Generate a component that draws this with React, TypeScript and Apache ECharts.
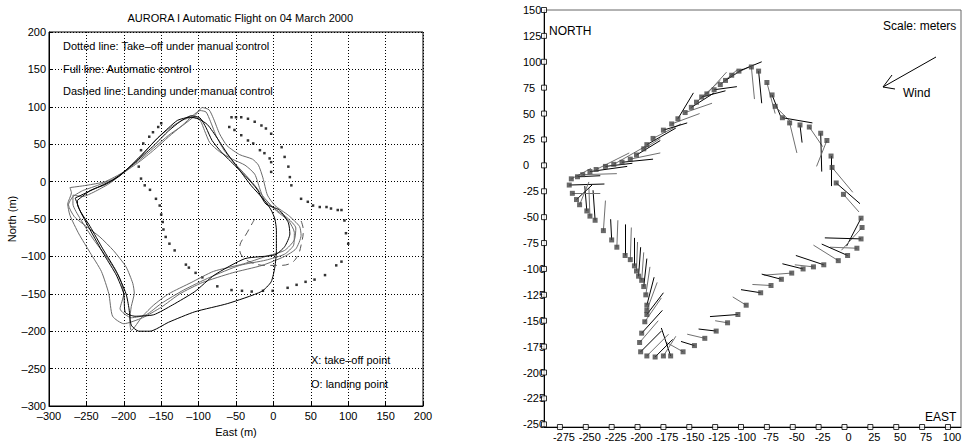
import React, { useEffect, useRef } from "react";
import * as echarts from "echarts";

// ---------- Left panel data ----------
const leftTicks = [-300, -250, -200, -150, -100, -50, 0, 50, 100, 150, 200];

const loopBlack1: [number, number][] = [
  [-262, -25], [-245, -12], [-225, -4], [-205, 8], [-190, 22], [-172, 40], [-155, 58], [-140, 72],
  [-128, 82], [-112, 86], [-100, 84], [-88, 76], [-75, 58], [-62, 38], [-45, 15], [-30, -5],
  [-12, -25], [-3, -38], [2, -50], [4, -65], [4, -92], [2, -114], [-3, -134], [-16, -147],
  [-61, -163], [-105, -174], [-140, -188], [-165, -200], [-180, -200], [-190, -192], [-193, -170],
  [-197, -150], [-210, -120], [-228, -90], [-245, -60], [-262, -30], [-262, -25],
];
const loopBlack2: [number, number][] = [
  [-265, -22], [-240, -10], [-215, 2], [-200, 13], [-180, 30], [-160, 48], [-140, 68], [-125, 80],
  [-110, 88], [-98, 85], [-90, 72], [-82, 55], [-70, 40], [-50, 20], [-35, 5], [-22, -10],
  [-10, -30], [8, -38], [20, -55], [22, -70], [15, -87], [2, -98], [-38, -103], [-79, -125],
  [-105, -147], [-135, -165], [-160, -178], [-185, -180], [-198, -175], [-200, -150], [-210, -125],
  [-225, -100], [-242, -70], [-258, -40], [-265, -22],
];
const loopGray1: [number, number][] = [
  [-272, -8], [-250, -5], [-225, 0], [-200, 13], [-180, 28], [-160, 45], [-140, 62], [-120, 76],
  [-105, 88], [-95, 99], [-86, 96], [-80, 84], [-72, 64], [-62, 48], [-45, 36], [-28, 30],
  [-20, 22], [-14, 5], [-8, -18], [2, -32], [20, -45], [35, -60], [37, -72], [30, -90], [15, -100],
  [-15, -112], [-55, -122], [-95, -135], [-125, -150], [-150, -168], [-175, -182], [-200, -190],
  [-215, -180], [-220, -150], [-230, -120], [-245, -95], [-260, -70], [-272, -45], [-275, -30],
  [-270, -15], [-272, -8],
];
const loopGray2: [number, number][] = [
  [-268, -18], [-255, -20], [-240, -14], [-220, -3], [-200, 12], [-180, 26], [-160, 42], [-140, 60],
  [-122, 75], [-108, 88], [-98, 95], [-90, 93], [-84, 80], [-76, 60], [-66, 42], [-55, 28],
  [-40, 12], [-25, -5], [-12, -22], [5, -40], [20, -52], [28, -68], [27, -85], [15, -97],
  [-10, -105], [-45, -112], [-85, -128], [-120, -145], [-150, -163], [-170, -178], [-190, -182],
  [-205, -170], [-200, -150], [-205, -130], [-220, -105], [-240, -78], [-258, -50], [-268, -30],
  [-268, -18],
];
const loopGray3: [number, number][] = [
  [-255, -12], [-235, -5], [-215, 3], [-200, 12], [-185, 25], [-170, 42], [-155, 58], [-138, 72],
  [-122, 82], [-108, 86], [-98, 82], [-92, 68], [-85, 52], [-72, 40], [-55, 30], [-38, 22],
  [-25, 10], [-18, -10], [-12, -25], [0, -35], [18, -48], [30, -62], [28, -78], [15, -92],
  [-10, -100], [-40, -110], [-80, -120], [-110, -135], [-140, -150], [-160, -165], [-175, -180],
  [-190, -199], [-192, -185], [-190, -167], [-186, -149], [-188, -136], [-197, -114], [-214, -92],
  [-232, -74], [-250, -60], [-266, -47], [-274, -31], [-268, -20], [-255, -12],
];
const landingPath: [number, number][] = [
  [-25, -50], [-35, -68], [-45, -88], [-43, -98], [-30, -108], [-10, -112], [10, -112],
  [25, -108], [33, -98], [37, -85], [40, -65], [36, -50],
];
const takeoffDots: [number, number][] = [
  [-56, 86], [-50, 86], [-43, 86], [-34, 84], [-25, 80], [-16, 75], [-10, 71], [-3, 64],
  [-59, 73], [-52, 69], [-43, 62], [-34, 55], [-27, 51], [-18, 42], [-12, 38], [-5, 31], [-3, 26],
  [-3, 13], [11, 46], [15, 33], [20, 20], [22, 6], [24, -5], [37, -23], [46, -27], [53, -32],
  [62, -34], [71, -34], [77, -36], [86, -38], [91, -38], [95, -52], [97, -69], [100, -83],
  [91, -107], [84, -112], [69, -125], [55, -131], [43, -134], [31, -138], [19, -142], [-1, -146],
  [-14, -146], [-29, -147], [-42, -146], [-56, -145], [-75, -140], [-95, -128], [-104, -122],
  [-113, -115], [-117, -111], [-132, -92], [-139, -83], [-144, -74], [-147, -64], [-148, -54],
  [-150, -44], [-152, -32], [-157, -23], [-165, -11], [-172, -5], [-177, 4], [-180, 20],
  [-177, 42], [-174, 51], [-166, 60], [-161, 66], [-154, 73], [-150, 78],
];
const landingPoint: [number, number][] = [[-5, 0]];

// ---------- Right panel data ----------
const rightXTicks = [-275, -250, -225, -200, -175, -150, -125, -100, -75, -50, -25, 0, 25, 50, 75, 100];
const rightYTicks = [-250, -225, -200, -175, -150, -125, -100, -75, -50, -25, 0, 25, 50, 75, 100, 125, 150];

const trackPoints: [number, number][] = [
  [-266, -19], [-264, -13], [-258, -11], [-253, -9], [-246, -6], [-240, -4], [-231, -1], [-223, 1],
  [-215, 3], [-207, 6], [-201, 10], [-194, 16], [-191, 20], [-185, 26], [-175, 34], [-167, 40],
  [-161, 45], [-154, 51], [-148, 56], [-143, 61], [-138, 66], [-133, 69], [-126, 73], [-120, 78],
  [-115, 82], [-109, 87], [-102, 91], [-90, 95], [-83, 91],
  [-75, 80], [-70, 68], [-67, 57], [-60, 46], [-53, 41], [-43, 39], [-34, 37], [-23, 31], [-17, 24],
  [-13, 9], [-12, -2], [-8, -17], [-1, -28], [16, -51], [17, -60], [16, -71], [12, -80], [3, -87],
  [-6, -92],
  [-20, -96], [-30, -98], [-40, -100], [-51, -104], [-61, -110], [-71, -116], [-81, -123],
  [-95, -135], [-103, -144], [-113, -152], [-124, -160], [-135, -167], [-145, -174], [-156, -180],
  [-168, -184], [-175, -184], [-183, -185], [-191, -184],
  [-197, -180], [-198, -171], [-196, -162], [-193, -151], [-191, -144], [-191, -140], [-191, -135],
  [-192, -125], [-194, -117], [-196, -111], [-199, -107], [-201, -102], [-203, -97], [-207, -91],
  [-212, -87], [-220, -79], [-225, -72], [-233, -63], [-241, -53], [-246, -49], [-249, -44],
  [-256, -38], [-259, -33], [-263, -27],
];
const vectorTips: [number, number][] = [
  [-232, -18], [-245, -3], [-236, -10], [-220, -8], [-210, -1], [-208, 12], [-205, 2], [-193, 18],
  [-185, 6], [-178, 12], [-178, 24], [-178, 26], [-163, 36], [-158, 40], [-152, 41], [-140, 50],
  [-146, 70], [-128, 60], [-126, 70], [-120, 82], [-115, 72], [-114, 90], [-104, 76], [-104, 92],
  [-98, 93], [-92, 95], [-80, 100], [-87, 64], [-80, 60],
  [-67, 50], [-62, 48], [-52, 42], [-31, 41], [-46, 12], [-41, 22], [-21, 18], [-22, -6], [-27, -1],
  [-13, -20], [8, -26], [15, -37], [14, -45], [2, -78], [-3, -82], [-19, -70], [-14, -79], [-22, -76],
  [-30, -77],
  [-47, -87], [-48, -96], [-60, -95], [-78, -106], [-80, -105], [-89, -115], [-100, -120],
  [-108, -127], [-130, -146], [-125, -150], [-141, -158], [-152, -163], [-158, -170], [-172, -171],
  [-177, -157], [-163, -165], [-166, -168], [-170, -163],
  [-177, -160], [-180, -150], [-176, -140], [-177, -128], [-175, -123], [-181, -113], [-184, -108],
  [-188, -98], [-191, -90], [-194, -84], [-197, -79], [-200, -74], [-203, -70], [-206, -60],
  [-212, -57], [-219, -53], [-226, -52], [-231, -34], [-243, -24], [-247, -22], [-251, -20],
  [-247, -16], [-244, -19], [-236, -27],
];

const X_MIN_R = -290.4;
const X_MAX_R = 112.6;
const Y_MIN_R = -252.6;
const Y_MAX_R = 150;

const dash = (v: number) => (v < 0 ? "\u2013" + Math.abs(v) : String(v));
const FONT = "Liberation Sans, Arial, Helvetica, sans-serif";

export default function App() {
  const ref = useRef<HTMLDivElement>(null);

  useEffect(() => {
    if (!ref.current) return;
    const chart = echarts.init(ref.current, null, { renderer: "svg" });

    const loopSeries = (data: [number, number][], color: string) => ({
      type: "line",
      xAxisIndex: 0,
      yAxisIndex: 0,
      data,
      symbol: "none",
      smooth: 0.2,
      lineStyle: { color, width: 1 },
      silent: true,
    });

    const segData = trackPoints.map((p, i) => ({
      coords: [p, vectorTips[i]],
      lineStyle: { color: i % 2 === 0 ? "#000" : "#707070", width: 1, opacity: 1 },
    }));

    const tickSquares = [
      ...rightYTicks.map((v) => [X_MIN_R, v]),
      ...rightXTicks.map((v) => [v, Y_MIN_R]),
    ];

    const option: any = {
      animation: false,
      backgroundColor: "#fff",
      textStyle: { fontFamily: FONT },
      grid: [
        { left: 49, top: 32, width: 374, height: 374, show: true, borderColor: "#000", borderWidth: 1 },
        { left: 544, top: 10, width: 417, height: 417, show: true, borderColor: "#666", borderWidth: 1 },
      ],
      xAxis: [
        {
          gridIndex: 0,
          type: "value",
          min: -300,
          max: 200,
          interval: 50,
          axisLine: { show: true, onZero: false, lineStyle: { color: "#000" } },
          axisTick: { show: true, inside: true, length: 4, lineStyle: { color: "#000" } },
          axisLabel: { color: "#000", fontSize: 11, margin: 4, formatter: dash, fontFamily: FONT },
          splitLine: { show: true, lineStyle: { color: "#000", type: [1, 2], width: 1 } },
          name: "East (m)",
          nameLocation: "middle",
          nameGap: 20,
          nameTextStyle: { color: "#000", fontSize: 11, fontFamily: FONT },
        },
        {
          gridIndex: 1,
          type: "value",
          min: X_MIN_R,
          max: X_MAX_R,
          axisLine: { show: true, onZero: false, lineStyle: { color: "#000" } },
          axisTick: { show: false },
          splitLine: { show: false },
          axisLabel: {
            color: "#000",
            fontSize: 11,
            margin: 4,
            padding: [0, 0, 0, 8],
            customValues: rightXTicks,
            formatter: (v: number) => String(v),
            fontFamily: FONT,
          },
        },
      ],
      yAxis: [
        {
          gridIndex: 0,
          type: "value",
          min: -300,
          max: 200,
          interval: 50,
          axisLine: { show: true, onZero: false, lineStyle: { color: "#000" } },
          axisTick: { show: true, inside: true, length: 4, lineStyle: { color: "#000" } },
          axisLabel: { color: "#000", fontSize: 11, margin: 3, formatter: dash, fontFamily: FONT },
          splitLine: { show: true, lineStyle: { color: "#000", type: [1, 2], width: 1 } },
          name: "North (m)",
          nameLocation: "middle",
          nameGap: 28,
          nameTextStyle: { color: "#000", fontSize: 11, fontFamily: FONT },
        },
        {
          gridIndex: 1,
          type: "value",
          min: Y_MIN_R,
          max: Y_MAX_R,
          axisLine: { show: true, onZero: false, lineStyle: { color: "#000" } },
          axisTick: { show: false },
          splitLine: { show: false },
          axisLabel: {
            color: "#000",
            fontSize: 11,
            margin: 21,
            align: "left",
            padding: [0, 0, 8, 0],
            customValues: rightYTicks,
            formatter: (v: number) => String(v),
            fontFamily: FONT,
          },
        },
      ],
      series: [
        loopSeries(loopGray1, "#6a6a6a"),
        loopSeries(loopGray2, "#6a6a6a"),
        loopSeries(loopGray3, "#6a6a6a"),
        loopSeries(loopBlack1, "#000"),
        loopSeries(loopBlack2, "#000"),
        {
          type: "line",
          xAxisIndex: 0,
          yAxisIndex: 0,
          data: landingPath,
          symbol: "none",
          smooth: 0.4,
          lineStyle: { color: "#555", width: 1, type: [7, 5] },
        },
        {
          type: "scatter",
          xAxisIndex: 0,
          yAxisIndex: 0,
          data: takeoffDots,
          symbol: "rect",
          symbolSize: 2.5,
          itemStyle: { color: "#000" },
        },
        {
          type: "scatter",
          xAxisIndex: 0,
          yAxisIndex: 0,
          data: landingPoint,
          symbol: "emptyCircle",
          symbolSize: 7,
          itemStyle: { color: "#fff", borderColor: "#444", borderWidth: 1 },
        },
        {
          type: "lines",
          coordinateSystem: "cartesian2d",
          xAxisIndex: 1,
          yAxisIndex: 1,
          data: segData,
          silent: true,
        },
        {
          type: "scatter",
          xAxisIndex: 1,
          yAxisIndex: 1,
          data: trackPoints,
          symbol: "rect",
          symbolSize: 5,
          itemStyle: { color: "#444" },
        },
        {
          type: "scatter",
          xAxisIndex: 1,
          yAxisIndex: 1,
          data: tickSquares,
          symbol: "rect",
          symbolSize: 5,
          clip: false,
          itemStyle: { color: "#fff", borderColor: "#000", borderWidth: 1 },
        },
      ],
      graphic: [
        { type: "text", left: 237.5 - 110, top: 12, style: { text: "AURORA I Automatic Flight on 04 March 2000", fontSize: 11, fontFamily: FONT, fill: "#000" } },
        { type: "text", x: 63, y: 46, style: { text: "Dotted line: Take\u2013off under manual control", fontSize: 11, fontFamily: FONT, fill: "#000", verticalAlign: "middle" } },
        { type: "text", x: 63, y: 69, style: { text: "Full line: Automatic control", fontSize: 11, fontFamily: FONT, fill: "#000", verticalAlign: "middle" } },
        { type: "text", x: 63, y: 91, style: { text: "Dashed line: Landing under manual control", fontSize: 11, fontFamily: FONT, fill: "#000", verticalAlign: "middle" } },
        { type: "text", x: 311, y: 360, style: { text: "X: take\u2013off point", fontSize: 11, fontFamily: FONT, fill: "#000", verticalAlign: "middle" } },
        { type: "text", x: 311, y: 384, style: { text: "O: landing point", fontSize: 11, fontFamily: FONT, fill: "#000", verticalAlign: "middle" } },
        { type: "text", x: 549, y: 31, style: { text: "NORTH", fontSize: 12, fontFamily: FONT, fill: "#000", verticalAlign: "middle" } },
        { type: "text", x: 883, y: 26, style: { text: "Scale: meters", fontSize: 12, fontFamily: FONT, fill: "#000", verticalAlign: "middle" } },
        { type: "text", x: 925, y: 417, style: { text: "EAST", fontSize: 12, fontFamily: FONT, fill: "#000", verticalAlign: "middle" } },
        { type: "text", x: 903, y: 93, style: { text: "Wind", fontSize: 12, fontFamily: FONT, fill: "#000", verticalAlign: "middle" } },
        { type: "line", shape: { x1: 936, y1: 57, x2: 883, y2: 87 }, style: { stroke: "#000", lineWidth: 1 } },
        { type: "polyline", shape: { points: [[892, 75], [883, 87], [895, 89]] }, style: { stroke: "#000", lineWidth: 1, fill: "none" } },
      ],
    };

    chart.setOption(option);
    return () => chart.dispose();
  }, []);

  return (
    <div
      ref={ref}
      style={{ position: "fixed", left: 0, top: 0, width: 966, height: 447, background: "#fff" }}
    />
  );
}
